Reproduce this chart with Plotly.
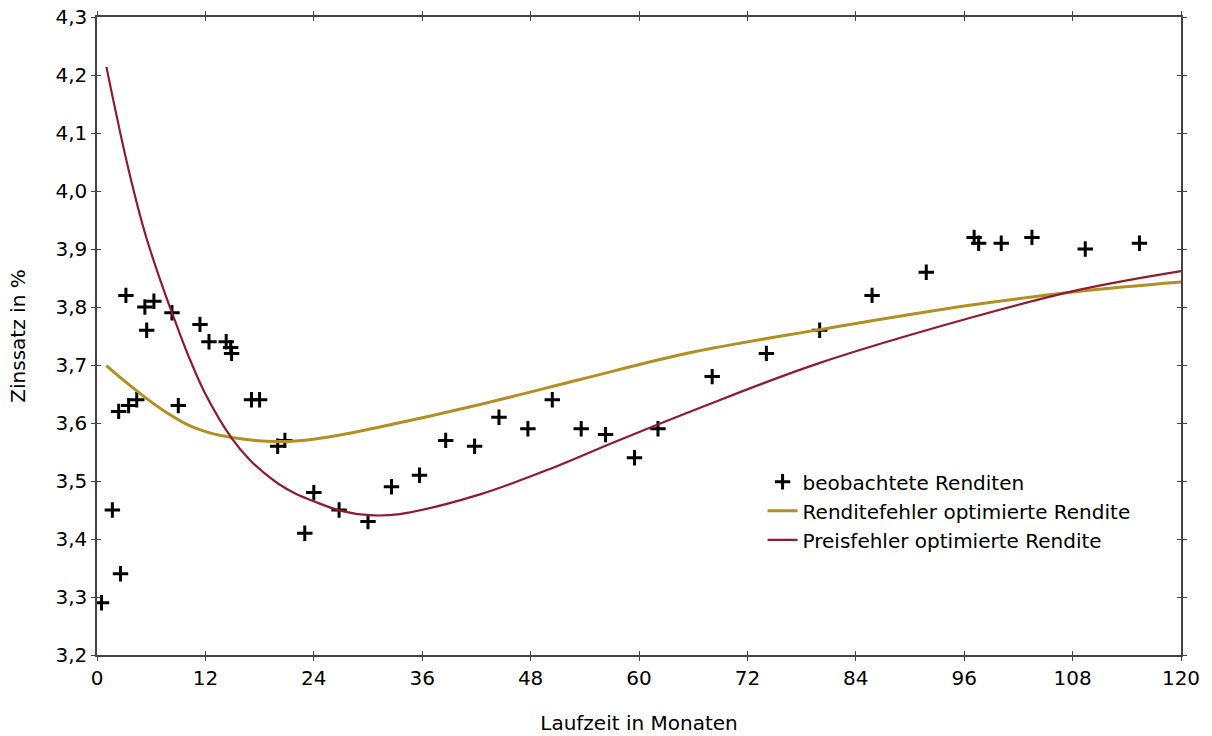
import plotly.graph_objects as go

# observed yields (months, percent)
obs_months = [0.5, 1.7, 2.6, 2.4, 3.2, 3.5, 4.4, 5.3, 5.5, 6.3, 8.3, 9.0, 11.4, 12.4,
              14.3, 14.8, 14.9, 17.1, 18.0, 20.0, 20.8, 23.0, 24.0, 26.8, 30.0, 32.6,
              35.7, 38.6, 41.8, 44.5, 47.7, 50.4, 53.6, 56.3, 59.5, 62.1, 68.1, 74.1,
              80.0, 85.8, 91.8, 97.1, 97.6, 100.1, 103.5, 109.4, 115.4]
obs_yields = [3.29, 3.45, 3.34, 3.62, 3.82, 3.63, 3.64, 3.80, 3.76, 3.81, 3.79, 3.63, 3.77, 3.74,
              3.74, 3.73, 3.72, 3.64, 3.64, 3.56, 3.57, 3.41, 3.48, 3.45, 3.43, 3.49,
              3.51, 3.57, 3.56, 3.61, 3.59, 3.64, 3.59, 3.58, 3.54, 3.59, 3.68, 3.72,
              3.76, 3.82, 3.86, 3.92, 3.91, 3.91, 3.92, 3.90, 3.91]

# yield-error optimised curve
gold_months = [1.04, 3.0, 5.5, 8.0, 10.3, 12.5, 14.9, 17.5, 19.9, 22.0, 24.0, 27.5, 31.3,
               42.4, 53.5, 65.6, 80.0, 96.6, 108.8, 120.0]
gold_yields = [3.699, 3.673, 3.642, 3.615, 3.595, 3.583, 3.575, 3.570, 3.568, 3.569, 3.572, 3.581, 3.593,
               3.632, 3.675, 3.721, 3.761, 3.803, 3.827, 3.843]

# price-error optimised curve
red_months = [1.04, 3.4, 5.3, 7.1, 9.0, 10.3, 12.0, 14.9, 17.0, 18.5, 20.2, 22.0, 24.0, 26.9,
              30.2, 33.5, 42.4, 50.5, 57.1, 66.7, 79.7, 96.6, 108.8, 120.0]
red_yields = [4.214, 4.043, 3.928, 3.842, 3.761, 3.709, 3.650, 3.574, 3.535, 3.514, 3.494, 3.478, 3.465, 3.449,
              3.441, 3.443, 3.477, 3.523, 3.566, 3.626, 3.702, 3.781, 3.830, 3.862]

x_ticks = [0, 12, 24, 36, 48, 60, 72, 84, 96, 108, 120]
y_ticks = [3.2, 3.3, 3.4, 3.5, 3.6, 3.7, 3.8, 3.9, 4.0, 4.1, 4.2, 4.3]
y_tick_labels = ["3,2", "3,3", "3,4", "3,5", "3,6", "3,7", "3,8", "3,9", "4,0", "4,1", "4,2", "4,3"]

FONT = "DejaVu Sans"
FS = 20
GOLD = "#B38E22"
RED = "#8E1B30"

fig = go.Figure()
fig.add_trace(go.Scatter(
    x=obs_months, y=obs_yields, mode="markers", name="beobachtete Renditen",
    marker=dict(symbol="cross-thin", size=11, color="black", line=dict(color="black", width=3)),
))
fig.add_trace(go.Scatter(
    x=gold_months, y=gold_yields, mode="lines", name="Renditefehler optimierte Rendite",
    line=dict(color=GOLD, width=3, shape="spline", smoothing=1.0),
))
fig.add_trace(go.Scatter(
    x=red_months, y=red_yields, mode="lines", name="Preisfehler optimierte Rendite",
    line=dict(color=RED, width=2.2, shape="spline", smoothing=1.0),
))
# invisible trace on overlay axes so crossing (inside) ticks are drawn
fig.add_trace(go.Scatter(x=[0], y=[3.2], xaxis="x2", yaxis="y2", mode="markers",
                         marker=dict(opacity=0), showlegend=False, hoverinfo="skip"))

fig.update_layout(
    width=1212, height=736,
    margin=dict(l=97, r=31, t=17, b=81, autoexpand=False),
    paper_bgcolor="white", plot_bgcolor="white",
    font=dict(family=FONT, size=FS, color="black"),
    showlegend=True,
    legend=dict(x=0.614, y=0.302, xanchor="left", yanchor="top",
                font=dict(family=FONT, size=FS, color="black"),
                bgcolor="rgba(0,0,0,0)", itemwidth=30, tracegroupgap=0),
    xaxis=dict(range=[0, 120], tickvals=x_ticks, ticktext=[str(v) for v in x_ticks],
               automargin=False,
               showgrid=False, zeroline=False, showline=True, linecolor="#444", linewidth=1.5,
               mirror="ticks", ticks="outside", ticklen=4, tickcolor="#444", tickwidth=1,
               tickfont=dict(family=FONT, size=FS),
               title=dict(text="Laufzeit in Monaten", font=dict(family=FONT, size=FS), standoff=27)),
    yaxis=dict(range=[3.2, 4.3], tickvals=y_ticks, ticktext=y_tick_labels,
               automargin=False,
               showgrid=False, zeroline=False, showline=True, linecolor="#444", linewidth=1.5,
               mirror="ticks", ticks="outside", ticklen=4, tickcolor="#444", tickwidth=1,
               tickfont=dict(family=FONT, size=FS),
               title=dict(text="Zinssatz in %", font=dict(family=FONT, size=FS), standoff=24)),
    xaxis2=dict(range=[0, 120], tickvals=x_ticks, overlaying="x", side="bottom",
                showticklabels=False, showgrid=False, zeroline=False, showline=False,
                mirror="ticks", ticks="inside", ticklen=4, tickcolor="#444", tickwidth=1),
    yaxis2=dict(range=[3.2, 4.3], tickvals=y_ticks, overlaying="y", side="left",
                showticklabels=False, showgrid=False, zeroline=False, showline=False,
                mirror="ticks", ticks="inside", ticklen=4, tickcolor="#444", tickwidth=1),
)

fig.write_html("out.html")
